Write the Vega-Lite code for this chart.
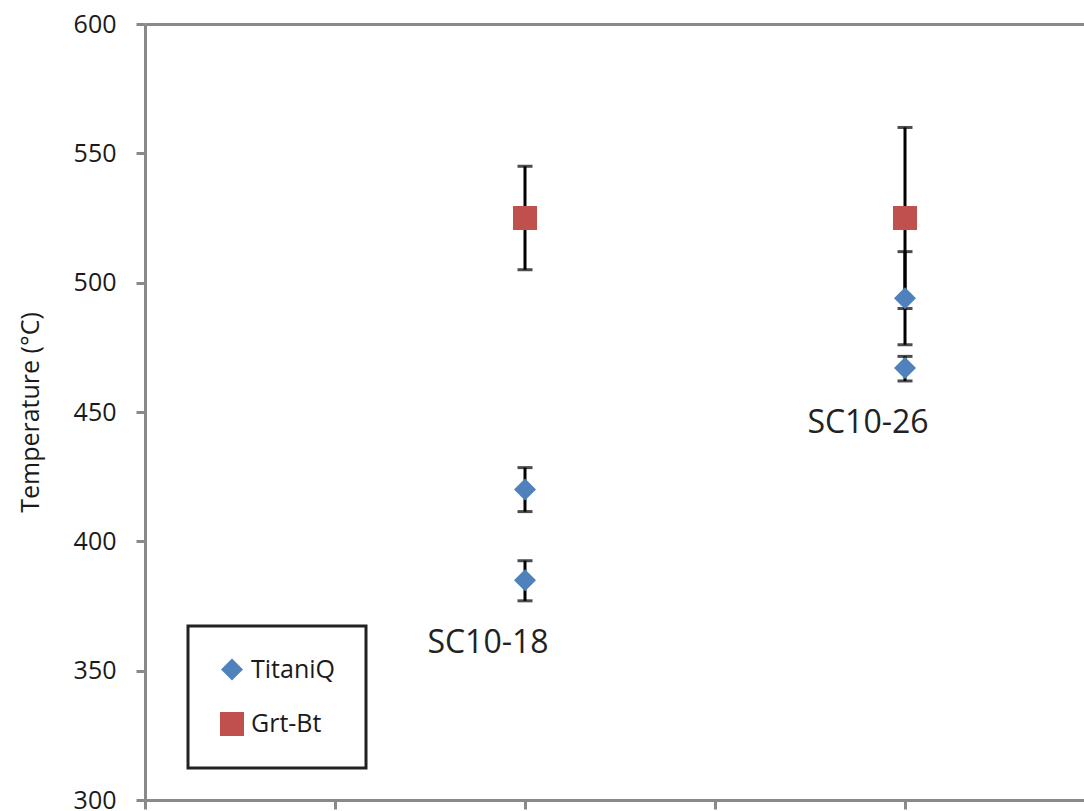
{
  "$schema": "https://vega.github.io/schema/vega-lite/v6.json",
  "autosize": {"type": "none"},
  "padding": {"left": 145, "top": 24, "right": 0, "bottom": 11},
  "width": 939,
  "height": 776,
  "background": "white",
  "config": {
    "view": {"stroke": null},
    "font": "Open Sans",
    "legend": {"strokeWidth": 3}
  },
  "data": {
    "values": [
      {"sample": "SC10-18", "x": 2, "series": "Grt-Bt", "value": 525, "lo": 505, "hi": 545},
      {"sample": "SC10-18", "x": 2, "series": "TitaniQ", "value": 420, "lo": 411.5, "hi": 428.5},
      {"sample": "SC10-18", "x": 2, "series": "TitaniQ", "value": 385, "lo": 377, "hi": 392.5},
      {"sample": "SC10-26", "x": 4, "series": "Grt-Bt", "value": 525, "lo": 490, "hi": 560},
      {"sample": "SC10-26", "x": 4, "series": "TitaniQ", "value": 494, "lo": 476, "hi": 512},
      {"sample": "SC10-26", "x": 4, "series": "TitaniQ", "value": 467, "lo": 462, "hi": 471.5}
    ]
  },
  "resolve": {"axis": {"x": "independent"}},
  "layer": [
    {
      "mark": {
        "type": "errorbar",
        "ticks": {"size": 15, "thickness": 3, "color": "black"},
        "rule": {"strokeWidth": 3, "color": "black"}
      },
      "encoding": {
        "x": {
          "field": "x", "type": "quantitative",
          "scale": {"domain": [0, 4.9421], "nice": false, "zero": false},
          "axis": {
            "orient": "bottom",
            "values": [0, 1, 2, 3, 4], "labels": false, "title": null, "grid": false,
            "domainColor": "#898989", "domainWidth": 3, "tickColor": "#898989",
            "tickWidth": 3, "tickSize": 9
          }
        },
        "y": {
          "field": "lo", "type": "quantitative",
          "scale": {"domain": [300, 600], "nice": false, "zero": false},
          "axis": {
            "values": [300, 350, 400, 450, 500, 550, 600], "grid": false,
            "title": "Temperature (°C)", "titleFontSize": 25, "titleFontWeight": "normal",
            "titleColor": "#1a1a1a", "titlePadding": 30,
            "labelFontSize": 25, "labelColor": "#1a1a1a", "labelPadding": 20,
            "domainColor": "#898989", "domainWidth": 3, "tickColor": "#898989",
            "tickWidth": 3, "tickSize": 9
          }
        },
        "y2": {"field": "hi"}
      }
    },
    {
      "mark": {"type": "point", "filled": true, "opacity": 1},
      "encoding": {
        "x": {"field": "x", "type": "quantitative", "axis": null},
        "y": {"field": "value", "type": "quantitative"},
        "color": {
          "field": "series", "type": "nominal",
          "scale": {"domain": ["TitaniQ", "Grt-Bt"], "range": ["#4F81BD", "#C0504D"]},
          "legend": {
            "title": null, "orient": "none", "legendX": 43, "legendY": 602,
            "strokeColor": "#222222", "padding": 31, "rowPadding": 28,
            "labelFontSize": 25, "labelColor": "#1a1a1a", "symbolSize": 400,
            "labelOffset": 6
          }
        },
        "shape": {
          "field": "series", "type": "nominal",
          "scale": {"domain": ["TitaniQ", "Grt-Bt"], "range": ["diamond", "square"]}
        },
        "size": {
          "field": "series", "type": "nominal",
          "scale": {"domain": ["TitaniQ", "Grt-Bt"], "range": [484, 576]},
          "legend": null
        }
      }
    },
    {
      "transform": [{"aggregate": [{"op": "min", "field": "lo", "as": "minlo"}], "groupby": ["sample", "x"]}],
      "mark": {"type": "text", "fontSize": 32, "color": "#222222", "dx": -37, "dy": 42, "baseline": "middle", "align": "center"},
      "encoding": {
        "x": {
          "field": "x", "type": "quantitative",
          "axis": {
            "orient": "top", "labels": false, "ticks": false, "title": null, "grid": false,
            "domainColor": "#898989", "domainWidth": 3
          }
        },
        "y": {"field": "minlo", "type": "quantitative"},
        "text": {"field": "sample"}
      }
    }
  ]
}
